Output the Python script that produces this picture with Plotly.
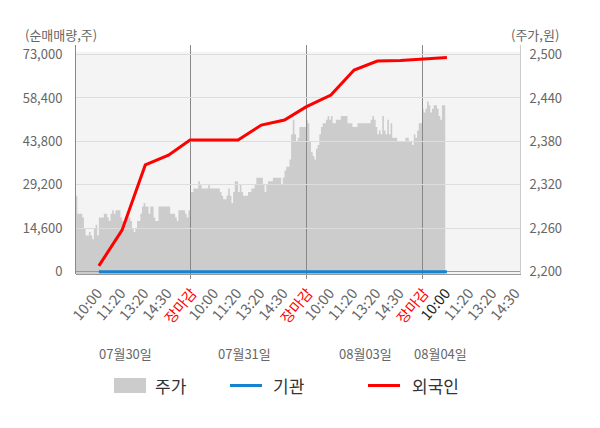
import plotly.graph_objects as go

# x axis is a slot index: every trading day takes 70 slots
SLOTS_PER_DAY = 70

day_labels = ["07월30일", "07월31일", "08월03일", "08월04일"]
day_label_slots = [31, 103, 176, 221]

# 주가 (won), one value per slot
price_0730 = [
    2305, 2305, 2280, 2280, 2280, 2275, 2260, 2250, 2250, 2255,
    2250, 2245, 2260, 2265, 2250, 2275, 2275, 2275, 2280, 2280,
    2275, 2270, 2280, 2285, 2280, 2285, 2285, 2285, 2275, 2270,
    2265, 2275, 2280, 2275, 2270, 2260, 2255, 2260, 2270, 2270,
    2280, 2290, 2295, 2290, 2290, 2280, 2290, 2290, 2275, 2270,
    2270, 2290, 2290, 2290, 2290, 2290, 2290, 2290, 2280, 2280,
    2280, 2275, 2270, 2285, 2285, 2285, 2285, 2280, 2275, 2285,
]
price_0731 = [
    2310, 2310, 2315, 2315, 2315, 2325, 2320, 2315, 2315, 2315,
    2315, 2320, 2315, 2315, 2315, 2315, 2315, 2315, 2310, 2305,
    2300, 2300, 2305, 2315, 2305, 2295, 2310, 2325, 2325, 2310,
    2320, 2310, 2305, 2305, 2305, 2310, 2310, 2315, 2315, 2320,
    2330, 2330, 2330, 2330, 2320, 2310, 2320, 2325, 2325, 2325,
    2330, 2330, 2330, 2330, 2330, 2320, 2330, 2340, 2345, 2345,
    2355, 2390, 2410, 2390, 2380, 2385, 2400, 2400, 2400, 2400,
]
price_0803 = [
    2410, 2405, 2380, 2365, 2360, 2355, 2370, 2375, 2390, 2400,
    2405, 2405, 2410, 2415, 2410, 2415, 2405, 2405, 2410, 2410,
    2410, 2415, 2415, 2415, 2415, 2405, 2405, 2405, 2400, 2400,
    2400, 2405, 2405, 2405, 2405, 2405, 2405, 2405, 2405, 2410,
    2415, 2410, 2400, 2390, 2395, 2390, 2415, 2395, 2390, 2410,
    2390, 2405, 2385, 2385, 2385, 2380, 2380, 2380, 2380, 2380,
    2385, 2385, 2380, 2380, 2375, 2390, 2385, 2395, 2405, 2405,
]
price_0804 = [
    2425, 2420, 2425, 2435, 2430, 2420, 2425, 2430, 2430, 2425,
    2415, 2410, 2430, 2430, 2430,
]

# 순매매량 (주), cumulative, at the published slots
flow_slots = [15, 29, 43, 57, 70, 85, 99, 113, 127, 140, 155, 169, 183, 197, 210, 225]
inst_net = [0, 0, 0, 0, 0, 0, 0, 0, 0, 0, 0, 0, 0, 0, 0, 0]
foreign_net = [2000, 14000, 35900, 39200, 44300, 44300, 44300, 49300,
               51000, 55400, 59400, 67800, 70800, 71000, 71400, 72000]

tick_slots = [13, 27, 41, 55, 70, 83, 97, 111, 125, 140,
              153, 167, 181, 195, 210, 223, 237, 251, 265]
close_label = '<span style="color:#ff0000">장마감</span>'
now_label = '<span style="color:#222222">10:00</span>'
tick_text = ["10:00", "11:20", "13:20", "14:30", close_label,
             "10:00", "11:20", "13:20", "14:30", close_label,
             "10:00", "11:20", "13:20", "14:30", close_label,
             now_label, "11:20", "13:20", "14:30"]
day_breaks = [70, 140, 210]

flow_ticks = [0, 14600, 29200, 43800, 58400, 73000]
price_ticks = [2200, 2260, 2320, 2380, 2440, 2500]

GREY_BG = "#f4f4f4"
PRICE_GREY = "#cccccc"
BLUE = "#1683d0"
RED = "#ff0000"
FONT = "Noto Sans CJK KR"

price_x, price_y = [], []
for d, day in enumerate([price_0730, price_0731, price_0803, price_0804]):
    price_x += [d * SLOTS_PER_DAY + k for k in range(len(day))]
    price_y += day

fig = go.Figure()
# price area sits in its own subplot so grid lines of the flow subplot go over it
fig.add_trace(go.Scatter(x=price_x, y=price_y, name="주가", mode="lines",
                         line=dict(width=0, shape="hv"), fill="tozeroy",
                         fillcolor=PRICE_GREY, xaxis="x", yaxis="y"))
fig.add_trace(go.Scatter(x=flow_slots, y=inst_net, name="기관", mode="lines",
                         line=dict(color=BLUE, width=3), xaxis="x2", yaxis="y2"))
fig.add_trace(go.Scatter(x=flow_slots, y=foreign_net, name="외국인", mode="lines",
                         line=dict(color=RED, width=3), xaxis="x2", yaxis="y2"))

x_range = [1.2, 269.1]
tick_font = dict(size=13, color="#666666")

fig.update_layout(
    width=600, height=428,
    margin=dict(l=76, r=80, t=45, b=154),
    paper_bgcolor="white", plot_bgcolor="rgba(0,0,0,0)",
    font=dict(family=FONT, color="#666666"),
    showlegend=False,
    xaxis=dict(range=x_range, anchor="y", tickvals=tick_slots, ticktext=tick_text,
               tickangle=-50, tickfont=dict(size=14.5, color="#666666"), ticks="",
               ticklabelstandoff=4, ticklabelshift=2, showgrid=False,
               zeroline=False, showline=True, linecolor="#999999"),
    yaxis=dict(range=[2196.96, 2513.1], side="right", anchor="x",
               tickvals=price_ticks, tickformat=",", tickfont=tick_font,
               ticks="", ticklabelstandoff=6, showgrid=False, zeroline=False,
               showline=True, linecolor="#cccccc"),
    xaxis2=dict(range=x_range, anchor="y2", tickvals=day_breaks,
                showticklabels=False, ticks="outside", ticklen=4,
                tickcolor="#888888", showgrid=True, gridcolor="#888888",
                zeroline=False, showline=False),
    yaxis2=dict(range=[-739, 76191], side="left", anchor="x2",
                tickvals=flow_ticks, tickformat=",", tickfont=tick_font,
                ticks="", ticklabelstandoff=10, showgrid=True,
                gridcolor="#dddddd", zeroline=True, zerolinecolor="#999999",
                zerolinewidth=1, showline=True, linecolor="#888888"),
)

shapes = [dict(type="rect", xref="paper", yref="paper", x0=0, x1=1, y0=0, y1=0.971,
               fillcolor=GREY_BG, line=dict(width=0), layer="below")]
annotations = []

for label, slot in zip(day_labels, day_label_slots):
    annotations.append(dict(x=slot, y=-0.345, xref="x", yref="paper", yanchor="middle",
                            text=label, showarrow=False,
                            font=dict(size=13, color="#666666")))

annotations.append(dict(x=-0.12, y=1.048, xref="paper", yref="paper", xanchor="left",
                        yanchor="middle", text="(순매매량,주)", showarrow=False,
                        font=dict(size=13)))
annotations.append(dict(x=0.975, y=1.048, xref="paper", yref="paper", xanchor="left",
                        yanchor="middle", text="(주가,원)", showarrow=False,
                        font=dict(size=13)))

# legend row under the chart
legend_y = -0.487
shapes.append(dict(type="rect", xref="paper", yref="paper", x0=0.0856, x1=0.1577,
                   y0=-0.5197, y1=-0.454, fillcolor=PRICE_GREY, line=dict(width=0)))
shapes.append(dict(type="line", xref="paper", yref="paper", x0=0.3468, x1=0.4189,
                   y0=legend_y, y1=legend_y, line=dict(color=BLUE, width=3)))
shapes.append(dict(type="line", xref="paper", yref="paper", x0=0.6577, x1=0.7297,
                   y0=legend_y, y1=legend_y, line=dict(color=RED, width=3)))
for text, x in [("주가", 0.1727), ("기관", 0.4385), ("외국인", 0.7523)]:
    annotations.append(dict(x=x, y=legend_y, xref="paper", yref="paper", xanchor="left",
                            yanchor="middle", text=text, showarrow=False,
                            font=dict(size=17, color="#333333")))

fig.update_layout(shapes=shapes, annotations=annotations)

# the page body keeps its default 8px margin otherwise
fig.write_html("out.html", config={"displayModeBar": False},
               post_script="document.body.style.margin = '0';")
